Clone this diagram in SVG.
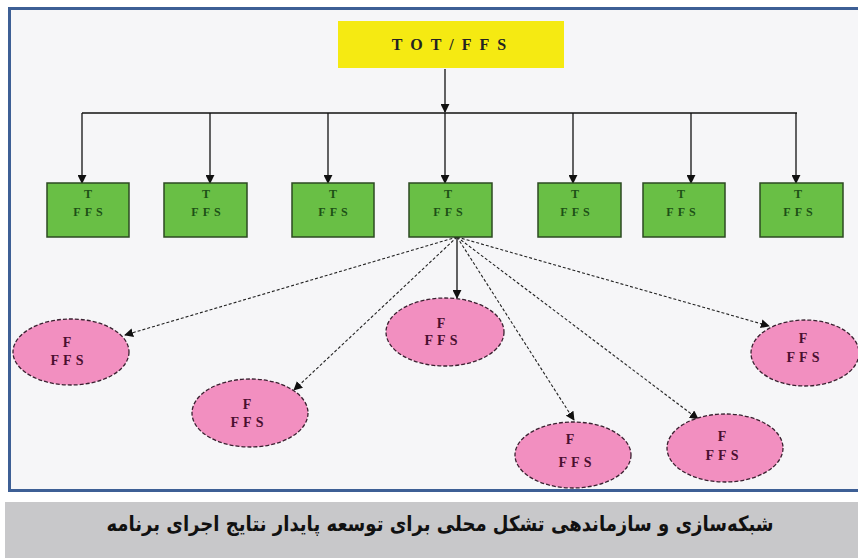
<svg xmlns="http://www.w3.org/2000/svg" width="858" height="558" viewBox="0 0 858 558">
<style>
.gbox{fill:#69bf45;stroke:#2d4a22;stroke-width:1.5}
.gt{font-family:"Liberation Serif",serif;font-size:12px;font-weight:bold;fill:#1d5016;text-anchor:middle;letter-spacing:4px}
.ell{fill:#f28fc0;stroke:#3a2030;stroke-width:1.3;stroke-dasharray:4 2}
.et{font-family:"Liberation Serif",serif;font-size:14px;font-weight:bold;fill:#4a1030;text-anchor:middle;letter-spacing:4px}
.solid{stroke:#111;stroke-width:1.3;fill:none}
.dash{stroke:#222;stroke-width:1.1;fill:none;stroke-dasharray:3 2}
</style>
<defs>
<marker id="ah" viewBox="0 0 10 10" refX="9" refY="5" markerWidth="9" markerHeight="9" markerUnits="userSpaceOnUse" orient="auto">
<path d="M0,0 L10,5 L0,10 z" fill="#111"/>
</marker>
</defs>
<rect x="0" y="0" width="858" height="558" fill="#ffffff"/>
<rect x="9.5" y="8.5" width="860" height="482" fill="#f6f6f8" stroke="#3d5f95" stroke-width="3"/>
<rect x="5" y="502" width="853" height="56" fill="#c8c8ca"/>
<text transform="translate(440,531) scale(0.86,1)" x="0" y="0" font-family="'DejaVu Sans',sans-serif" font-size="21" font-weight="bold" text-anchor="middle" direction="rtl" fill="#111">شبکه‌سازی و سازماندهی تشکل محلی برای توسعه پایدار نتایج اجرای برنامه</text>

<g id="connectors">
<path class="solid" d="M445,69 V112" marker-end="url(#ah)"/>
<path class="solid" d="M82,113 H797"/>
<path class="solid" d="M82,113 V183" marker-end="url(#ah)"/>
<path class="solid" d="M210,113 V183" marker-end="url(#ah)"/>
<path class="solid" d="M328,113 V183" marker-end="url(#ah)"/>
<path class="solid" d="M445,113 V183" marker-end="url(#ah)"/>
<path class="solid" d="M573,113 V183" marker-end="url(#ah)"/>
<path class="solid" d="M691,113 V183" marker-end="url(#ah)"/>
<path class="solid" d="M796,113 V183" marker-end="url(#ah)"/>
<path class="solid" d="M457,237 V298" marker-end="url(#ah)"/>
<path class="dash" d="M457,237 L125,335" marker-end="url(#ah)"/>
<path class="dash" d="M457,237 L294,390" marker-end="url(#ah)"/>
<path class="dash" d="M457,237 L574,420" marker-end="url(#ah)"/>
<path class="dash" d="M457,237 L698,419" marker-end="url(#ah)"/>
<path class="dash" d="M457,237 L769,326" marker-end="url(#ah)"/>
</g>

<g id="root">
<rect x="338" y="21" width="226" height="47" fill="#f5ea12"/>
<text x="453" y="50" font-family="'Liberation Serif',serif" font-size="16" font-weight="bold" text-anchor="middle" letter-spacing="8" fill="#222">TOT/FFS</text>
</g>

<g id="t1"><rect class="gbox" x="47" y="183" width="82" height="54"/><text class="gt" x="90" y="198">T</text><text class="gt" x="90" y="216">FFS</text></g>
<g id="t2"><rect class="gbox" x="164" y="183" width="83" height="54"/><text class="gt" x="208" y="198">T</text><text class="gt" x="208" y="216">FFS</text></g>
<g id="t3"><rect class="gbox" x="292" y="183" width="82" height="54"/><text class="gt" x="335" y="198">T</text><text class="gt" x="335" y="216">FFS</text></g>
<g id="t4"><rect class="gbox" x="409" y="183" width="83" height="54"/><text class="gt" x="450" y="198">T</text><text class="gt" x="450" y="216">FFS</text></g>
<g id="t5"><rect class="gbox" x="538" y="183" width="83" height="54"/><text class="gt" x="577" y="198">T</text><text class="gt" x="577" y="216">FFS</text></g>
<g id="t6"><rect class="gbox" x="643" y="183" width="82" height="54"/><text class="gt" x="683" y="198">T</text><text class="gt" x="683" y="216">FFS</text></g>
<g id="t7"><rect class="gbox" x="760" y="183" width="83" height="54"/><text class="gt" x="800" y="198">T</text><text class="gt" x="800" y="216">FFS</text></g>

<g id="f1"><ellipse class="ell" cx="71" cy="352" rx="58" ry="33"/><text class="et" x="69" y="347">F</text><text class="et" x="69" y="365">FFS</text></g>
<g id="f2"><ellipse class="ell" cx="250" cy="413" rx="58" ry="34"/><text class="et" x="249" y="409">F</text><text class="et" x="249" y="427">FFS</text></g>
<g id="f3"><ellipse class="ell" cx="445" cy="332" rx="59" ry="34"/><text class="et" x="443" y="328">F</text><text class="et" x="443" y="345">FFS</text></g>
<g id="f4"><ellipse class="ell" cx="573" cy="455" rx="58" ry="33"/><text class="et" x="572" y="444">F</text><text class="et" x="577" y="467">FFS</text></g>
<g id="f5"><ellipse class="ell" cx="725" cy="448" rx="58" ry="34"/><text class="et" x="724" y="441">F</text><text class="et" x="724" y="460">FFS</text></g>
<g id="f6"><ellipse class="ell" cx="805" cy="353" rx="54" ry="33"/><text class="et" x="805" y="343">F</text><text class="et" x="805" y="362">FFS</text></g>
</svg>
